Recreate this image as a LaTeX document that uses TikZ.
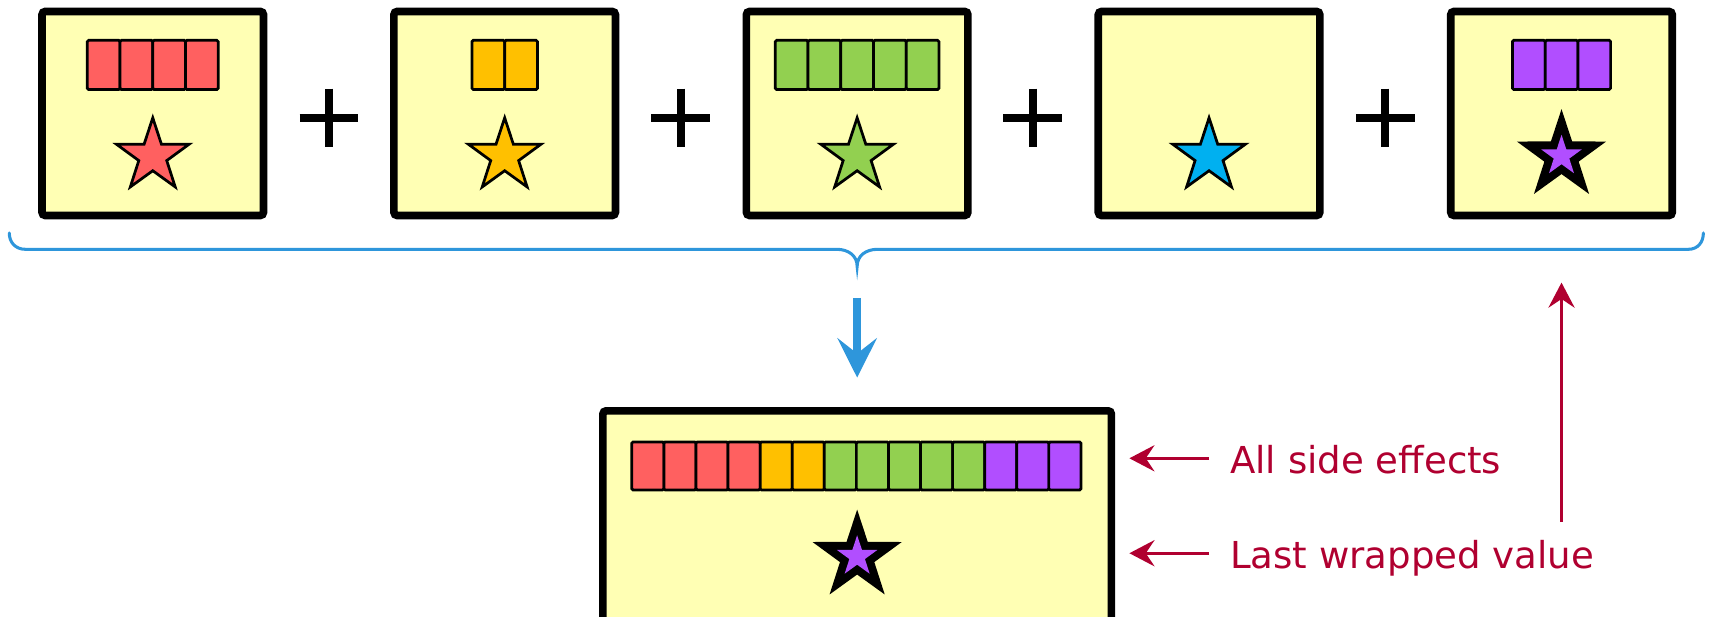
\documentclass[tikz,border=0pt]{standalone}
\usepackage{fontspec}
\setmainfont{DejaVu Sans}
\usetikzlibrary{shapes.geometric,arrows.meta}
\definecolor{boxfill}{HTML}{FFFFB4}
\definecolor{cred}{HTML}{FF6060}
\definecolor{cyel}{HTML}{FFC000}
\definecolor{cgrn}{HTML}{92D050}
\definecolor{cpur}{HTML}{B14EFF}
\definecolor{cblu}{HTML}{00B0F0}
\definecolor{braceblue}{HTML}{2E96DB}
\definecolor{notered}{HTML}{B00030}
\tikzset{
  bigbox/.style={draw=black, fill=boxfill, line width=3.5pt, rounded corners=1.5pt, inner sep=0pt, outer sep=0pt},
  cell/.style={draw=black, line width=1.25pt, minimum width=15pt, minimum height=22.5pt, inner sep=0pt, outer sep=0pt, rounded corners=0.6pt},
  bcell/.style={cell, minimum width=14.7pt, minimum height=22pt},
  mystar/.style={star, star points=5, star point ratio=2.6, inner sep=0pt, outer sep=0pt, draw=black, line width=1.25pt, minimum size=35pt},
  boldstar/.style={star, star points=5, star point ratio=2.6, inner sep=0pt, outer sep=0pt, fill=black, minimum size=43pt},
  innerstar/.style={star, star points=5, star point ratio=2.6, inner sep=0pt, outer sep=0pt, fill=cpur, minimum size=19.5pt},
  plusline/.style={draw=black, line width=3.7pt},
  brace/.style={draw=braceblue, line width=1.4pt, line cap=round},
  bluearrow/.style={draw=braceblue, line width=3.5pt, -{Stealth[length=18pt,width=18pt,inset=7pt]}},
  redarrow/.style={draw=notered, line width=1.35pt, -{Stealth[length=11.5pt,width=12pt,inset=4pt]}},
  note/.style={text=notered, font=\fontsize{17pt}{20pt}\selectfont, inner sep=0pt, anchor=base west}
}
\begin{document}
\begin{tikzpicture}[x=0.5pt,y=-0.5pt]
\useasboundingbox (0,0) rectangle (1568,565);
\clip (0,0) rectangle (1568,565);
% top boxes
\node[bigbox, minimum width=101.5pt, minimum height=93.5pt] (b1) at (140,104) {};
\node[bigbox, minimum width=101.5pt, minimum height=93.5pt] (b2) at (462.5,104) {};
\node[bigbox, minimum width=101.5pt, minimum height=93.5pt] (b3) at (785.5,104) {};
\node[bigbox, minimum width=101.5pt, minimum height=93.5pt] (b4) at (1108,104) {};
\node[bigbox, minimum width=101.5pt, minimum height=93.5pt] (b5) at (1431,104) {};
% bars
\foreach \k in {1,...,4} \node[cell, fill=cred] (r\k) at ({140+(\k-2.5)*30},59.5) {};
\foreach \k in {1,2} \node[cell, fill=cyel] (y\k) at ({462.5+(\k-1.5)*30},59.5) {};
\foreach \k in {1,...,5} \node[cell, fill=cgrn] (g\k) at ({785.5+(\k-3)*30},59.5) {};
\foreach \k in {1,...,3} \node[cell, fill=cpur] (u\k) at ({1431+(\k-2)*30},59.5) {};
% stars
\node[mystar, fill=cred] (s1) at (140,143) {};
\node[mystar, fill=cyel] (s2) at (462.5,143) {};
\node[mystar, fill=cgrn] (s3) at (785.5,143) {};
\node[mystar, fill=cblu] (s4) at (1108,143) {};
\node[boldstar] (s5) at (1431,143) {};
\node[innerstar] (s5i) at (1431,143) {};
% plus signs
\foreach \i/\px in {1/301.5,2/624,3/946.5,4/1269.5} {
  \coordinate (p\i) at (\px,108);
  \draw[plusline] ([xshift=-13.5pt]p\i) -- ([xshift=13.5pt]p\i);
  \draw[plusline] ([yshift=13.4pt]p\i) -- ([yshift=-13.4pt]p\i);
}
% brace
\draw[brace] (8.5,213.5) .. controls (8.5,222) and (14,228.5) .. (23.5,228.5) -- (767,228.5)
  .. controls (777,228.5) and (785.5,234) .. (785.5,244)
  .. controls (785.5,234) and (794,228.5) .. (804,228.5) -- (1547,228.5)
  .. controls (1556,228.5) and (1561,222) .. (1561,213.5);
\coordinate (bt) at (785.5,244);
% blue arrow
\coordinate (ba1) at (785.5,273);
\coordinate (ba2) at (785.5,346);
\draw[bluearrow] (ba1) -- (ba2);
% bottom box
\node[bigbox, minimum width=233pt, minimum height=141.75pt] (res) at (785.5,518.25) {};
\foreach \k in {1,...,14} {
  \pgfmathsetmacro{\cx}{579+14.7+(\k-1)*29.4}
  \ifnum\k<5 \def\cc{cred}\else\ifnum\k<7 \def\cc{cyel}\else\ifnum\k<12 \def\cc{cgrn}\else\def\cc{cpur}\fi\fi\fi
  \node[bcell, fill=\cc] (c\k) at (\cx,427) {};
}
\node[boldstar] (rs) at (785.5,510) {};
\node[innerstar] (rsi) at (785.5,510) {};
% notes
\node[note] (t1) at (1127,433.8) {All side effects};
\node[note] (t2) at (1127,520.6) {Last wrapped value};
\coordinate (a1s) at (1108,420);
\coordinate (a1e) at (1035,420);
\coordinate (a2s) at (1108,507);
\coordinate (a2e) at (1035,507);
\draw[redarrow] (a1s) -- (a1e);
\draw[redarrow] (a2s) -- (a2e);
\coordinate (v1) at (1431,478);
\coordinate (v2) at (1431,259);
\draw[redarrow] (v1) -- (v2);
\end{tikzpicture}
\end{document}
